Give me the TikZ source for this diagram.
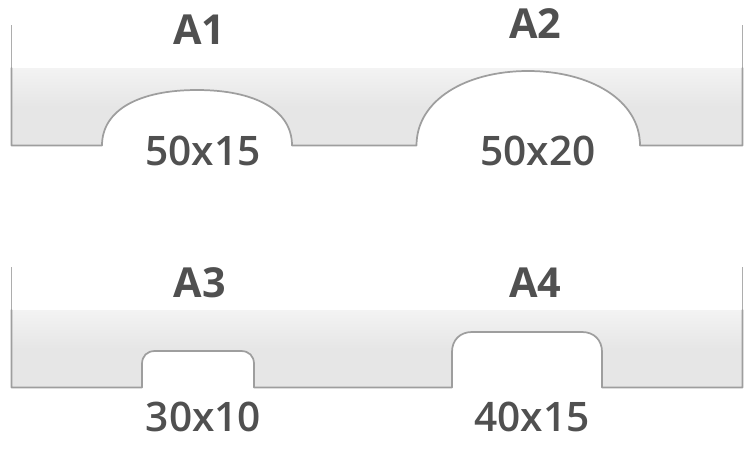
\documentclass[tikz,border=0pt]{standalone}
\usepackage{fontspec}
\setmainfont{Open Sans}
\IfFontExistsTF{Open Sans Semibold}{\newfontfamily\dimfont{Open Sans Semibold}}{%
  \IfFontExistsTF{Open Sans Medium}{\newfontfamily\dimfont{Open Sans Medium}}{%
    \newfontfamily\dimfont{Open Sans}}}
\definecolor{edge}{HTML}{9E9E9E}
\definecolor{ink}{HTML}{505050}
\definecolor{fillTopC}{HTML}{F3F3F3}
\definecolor{fillLowC}{HTML}{E6E6E6}
\pgfdeclareverticalshading{panelshade}{100bp}{
  color(0bp)=(fillLowC); color(50bp)=(fillLowC); color(75bp)=(fillTopC); color(100bp)=(fillTopC)}
\tikzset{
  panelfill/.style={draw=none,shading=panelshade},
  outline/.style={draw=edge,line width=1.3pt,line join=round,line cap=round},
  riser/.style={draw=edge!85,line width=0.9pt},
  title/.style={anchor=base,text=ink,font=\fontsize{31pt}{31pt}\bfseries,inner sep=0pt},
  dimlabel/.style={anchor=base,text=ink,font=\fontsize{30.5pt}{31pt}\dimfont,inner sep=0pt}
}
\begin{document}
\begin{tikzpicture}[x=0.75pt,y=-0.75pt]
\useasboundingbox (0,0) rectangle (755,451);
% top panel
\path[panelfill] (11.5,68) -- (742.5,68) -- (742.5,145.5) -- (640,145.5)
  .. controls (640,100) and (590,71) .. (528,71)
  .. controls (466,71) and (416.5,100) .. (416.5,145.5) -- (292,145.5)
  .. controls (292,110) and (255,90) .. (197,90)
  .. controls (139,90) and (102,110) .. (102,145.5) -- (11.5,145.5) -- cycle;
\draw[riser] (11.5,25) -- (11.5,68);
\draw[riser] (742.5,25) -- (742.5,68);
\draw[outline] (11.5,68) -- (11.5,145.5) -- (102,145.5)
  .. controls (102,110) and (139,90) .. (197,90)
  .. controls (255,90) and (292,110) .. (292,145.5) -- (416.5,145.5)
  .. controls (416.5,100) and (466,71) .. (528,71)
  .. controls (590,71) and (640,100) .. (640,145.5) -- (742.5,145.5) -- (742.5,68);
% bottom panel
\path[panelfill] (11.5,310) -- (742.5,310) -- (742.5,387.5) -- (602,387.5) -- (602,352)
  .. controls (602,340) and (594,332) .. (582,332) -- (472,332)
  .. controls (460,332) and (452,340) .. (452,352) -- (452,387.5) -- (254,387.5) -- (254,364)
  .. controls (254,356) and (249,351) .. (241,351) -- (155,351)
  .. controls (147,351) and (142,356) .. (142,364) -- (142,387.5) -- (11.5,387.5) -- cycle;
\draw[riser] (11.5,267) -- (11.5,310);
\draw[riser] (742.5,267) -- (742.5,310);
\draw[outline] (11.5,310) -- (11.5,387.5) -- (142,387.5) -- (142,364)
  .. controls (142,356) and (147,351) .. (155,351) -- (241,351)
  .. controls (249,351) and (254,356) .. (254,364) -- (254,387.5) -- (452,387.5) -- (452,352)
  .. controls (452,340) and (460,332) .. (472,332) -- (582,332)
  .. controls (594,332) and (602,340) .. (602,352) -- (602,387.5) -- (742.5,387.5) -- (742.5,310);
% labels
\node[title] (a1) at (199.5,44) {A1};
\node[title] (a2) at (535.5,38) {A2};
\node[title] (a3) at (200,297) {A3};
\node[title] (a4) at (535.5,297) {A4};
\node[dimlabel] (d1) at (203,165) {50x15};
\node[dimlabel] (d2) at (538,165) {50x20};
\node[dimlabel] (d3) at (203.5,431) {30x10};
\node[dimlabel] (d4) at (532,431) {40x15};
\end{tikzpicture}
\end{document}
